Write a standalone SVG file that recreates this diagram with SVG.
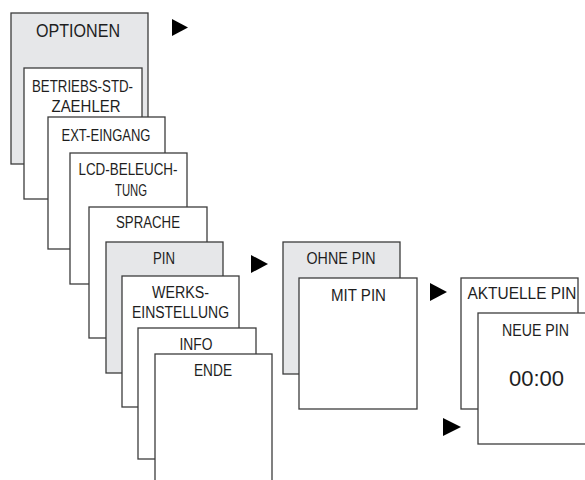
<svg xmlns="http://www.w3.org/2000/svg" width="585" height="480" viewBox="0 0 585 480">
<style>
.b{fill:#fff;stroke:#3c3c3c;stroke-width:1.3}
.g{fill:#e6e7e9;stroke:#3c3c3c;stroke-width:1.3}
text{font-family:"Liberation Sans",Arial,sans-serif;font-size:16px;fill:#1e1e1e;text-anchor:middle}
.t{fill:#000}
</style>
<rect width="585" height="480" fill="#fff"/>
<g id="optionen"><rect class="g" x="11" y="13" width="137" height="151"/><text x="78" y="37" style="font-size:17.5px" textLength="84" lengthAdjust="spacingAndGlyphs">OPTIONEN</text></g>
<g id="betriebs"><rect class="b" x="24" y="68" width="118" height="131"/><text x="82.5" y="92" textLength="101" lengthAdjust="spacingAndGlyphs">BETRIEBS-STD-</text><text x="86" y="112" textLength="69" lengthAdjust="spacingAndGlyphs">ZAEHLER</text></g>
<g id="ext"><rect class="b" x="48" y="117" width="117" height="132"/><text x="106" y="141" textLength="89" lengthAdjust="spacingAndGlyphs">EXT-EINGANG</text></g>
<g id="lcd"><rect class="b" x="70" y="153" width="117" height="131"/><text x="128" y="175" textLength="99" lengthAdjust="spacingAndGlyphs">LCD-BELEUCH-</text><text x="131" y="196" textLength="32" lengthAdjust="spacingAndGlyphs">TUNG</text></g>
<g id="sprache"><rect class="b" x="89" y="207" width="118" height="131"/><text x="148" y="228" textLength="64" lengthAdjust="spacingAndGlyphs">SPRACHE</text></g>
<g id="pin"><rect class="g" x="106" y="242" width="117" height="131"/><text x="164" y="264" textLength="22" lengthAdjust="spacingAndGlyphs">PIN</text></g>
<g id="werks"><rect class="b" x="122" y="276" width="117" height="131"/><text x="180.5" y="298" textLength="57" lengthAdjust="spacingAndGlyphs">WERKS-</text><text x="180.5" y="318" textLength="97" lengthAdjust="spacingAndGlyphs">EINSTELLUNG</text></g>
<g id="info"><rect class="b" x="138" y="328" width="118" height="131"/><text x="196" y="350" textLength="33" lengthAdjust="spacingAndGlyphs">INFO</text></g>
<g id="ende"><rect class="b" x="155" y="354" width="117" height="140"/><text x="213" y="376" textLength="38" lengthAdjust="spacingAndGlyphs">ENDE</text></g>
<g id="ohnepin"><rect class="g" x="283" y="242" width="117" height="132"/><text x="341" y="264" textLength="69" lengthAdjust="spacingAndGlyphs">OHNE PIN</text></g>
<g id="mitpin"><rect class="b" x="299" y="278" width="118" height="131"/><text x="358.5" y="301" textLength="55" lengthAdjust="spacingAndGlyphs">MIT PIN</text></g>
<g id="aktuellepin"><rect class="b" x="461" y="278" width="117" height="131"/><text x="522" y="299" textLength="109" lengthAdjust="spacingAndGlyphs">AKTUELLE PIN</text></g>
<g id="neuepin"><rect class="b" x="478" y="313" width="117" height="131"/><text x="535.5" y="336" textLength="67" lengthAdjust="spacingAndGlyphs">NEUE PIN</text><text x="536.5" y="386" style="font-size:22px">00:00</text></g>
<g id="connectors">
<polygon class="t" points="172,19 188,27.5 172,36"/>
<polygon class="t" points="251,255 268,264 251,273"/>
<polygon class="t" points="430,283 447,292 430,301"/>
<polygon class="t" points="443,418 461,427 443,436"/>
</g>
</svg>
